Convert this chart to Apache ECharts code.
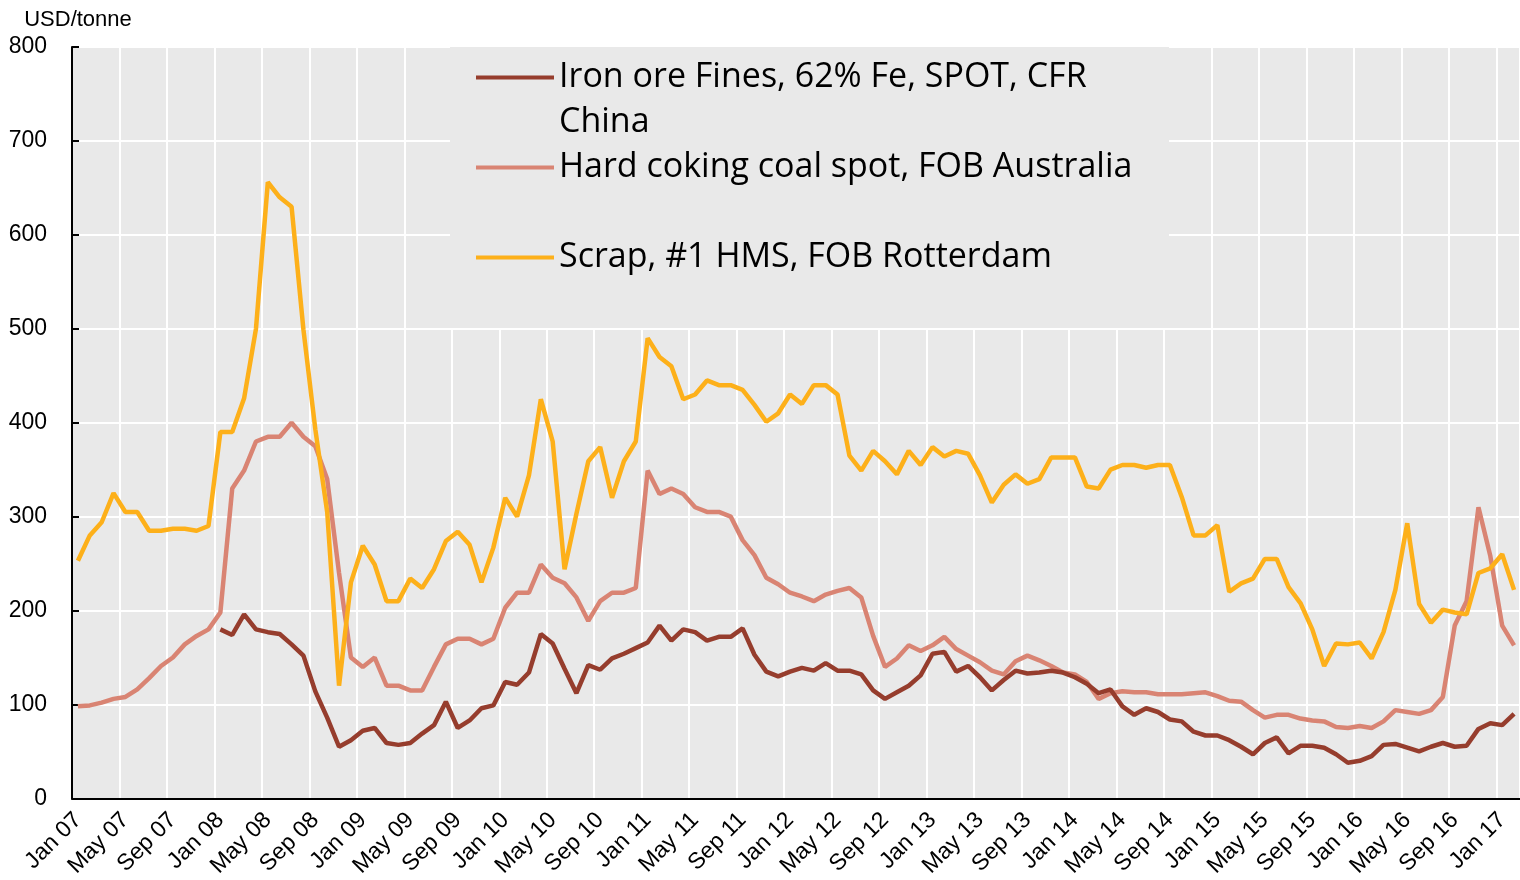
<html>
    <head>
        <meta charset="utf-8">
        <script src="https://cdn.jsdelivr.net/npm/echarts@6/dist/echarts.min.js"></script>
        <style>
            html, body { margin: 0; padding: 0; background: #fff; }
            #chart { width: 1520px; height: 880px; }
        </style>
    </head>
    <body>
        <div id="chart"></div>
        <script>
        var monthNames = ['Jan', 'Feb', 'Mar', 'Apr', 'May', 'Jun', 'Jul', 'Aug', 'Sep', 'Oct', 'Nov', 'Dec'];
        var yearLabels = ['07', '08', '09', '10', '11', '12', '13', '14', '15', '16', '17'];
        var monthCount = 122; // Jan 07 .. Feb 17

        var ironOre = [
            null, null, null, null, null, null, null, null, null, null, null, null,
            180, 174, 196, 180, 177, 175, 164, 152, 114, 86, 55, 62,
            72, 75, 59, 57, 59, 69, 78, 103, 75, 83, 96, 99,
            124, 121, 134, 175, 165, 138, 112, 142, 137, 149, 154, 160,
            166, 184, 168, 180, 177, 168, 172, 172, 181, 153, 135, 130,
            135, 139, 136, 144, 136, 136, 132, 115, 106, 113, 120, 131,
            154, 156, 135, 141, 129, 115, 126, 136, 133, 134, 136, 134,
            129, 122, 112, 116, 98, 89, 96, 92, 84, 82, 71, 67,
            67, 62, 55, 47, 59, 65, 48, 56, 56, 54, 47, 38,
            40, 45, 57, 58, 54, 50, 55, 59, 55, 56, 74, 80,
            78, 90
        ];
        var cokingCoal = [
            98, 99, 102, 106, 108, 116, 128, 141, 150, 164, 173, 180,
            198, 330, 349, 380, 385, 385, 400, 385, 375, 340, 240, 150,
            140, 150, 120, 120, 115, 115, 140, 164, 170, 170, 164, 170,
            203, 219, 219, 249, 235, 229, 214, 189, 210, 219, 219, 224,
            349, 324, 330, 324, 310, 305, 305, 300, 275, 259, 235, 228,
            219, 215, 210, 217, 221, 224, 214, 173, 140, 149, 163, 157,
            163, 172, 159, 152, 145, 136, 132, 146, 152, 147, 141, 134,
            132, 124, 106, 112, 114, 113, 113, 111, 111, 111, 112, 113,
            109, 104, 103, 94, 86, 89, 89, 85, 83, 82, 76, 75,
            77, 75, 82, 94, 92, 90, 94, 108, 184, 210, 310, 258,
            184, 163
        ];
        var scrap = [
            253, 280, 294, 325, 305, 305, 285, 285, 287, 287, 285, 290,
            390, 390, 426, 500, 656, 640, 630, 499, 393, 305, 120, 230,
            269, 249, 210, 210, 234, 224, 244, 274, 284, 270, 230, 267,
            320, 300, 344, 425, 380, 244, 303, 359, 374, 320, 359, 380,
            490, 470, 460, 425, 430, 445, 440, 440, 435, 419, 401, 410,
            430, 420, 440, 440, 430, 365, 349, 370, 359, 345, 370, 355,
            374, 364, 370, 367, 344, 315, 334, 345, 335, 340, 363, 363,
            363, 332, 330, 350, 355, 355, 352, 355, 355, 321, 280, 280,
            291, 220, 229, 234, 255, 255, 225, 208, 180, 141, 165, 164,
            166, 149, 177, 222, 293, 207, 187, 201, 198, 196, 240, 245,
            260, 222
        ];

        var seriesNames = [
            'Iron ore Fines, 62% Fe, SPOT, CFR China',
            'Hard coking coal spot, FOB Australia',
            'Scrap, #1 HMS, FOB Rotterdam'
        ];
        var seriesColors = ['#963d2d', '#d98473', '#fdb01a'];

        var categories = [];
        for (var i = 0; i < monthCount; i++) {
            categories.push(monthNames[i % 12] + ' ' + yearLabels[Math.floor(i / 12)]);
        }

        var axisFont = '"Liberation Sans", Arial, sans-serif';
        var legendFont = '"Open Sans", sans-serif';

        var chart = echarts.init(document.getElementById('chart'));

        var option = {
            animation: false,
            grid: {
                left: 72,
                right: 0,
                top: 47,
                bottom: 76,
                show: true,
                backgroundColor: '#e9e9e9',
                borderWidth: 0
            },
            legend: {
                orient: 'vertical',
                left: 450,
                top: 47,
                padding: [8, 35, 3, 26],
                backgroundColor: '#e9e9e9',
                itemWidth: 78,
                itemHeight: 49,
                itemGap: 0,
                selectedMode: false,
                // bar at the top of the icon box so it lines up with the first text line
                icon: 'path://M0,0H78V4H0ZM0,49L0.01,49',
                itemStyle: { borderWidth: 0 },
                data: seriesNames,
                formatter: function (name) {
                    if (name === seriesNames[0]) {
                        return 'Iron ore Fines, 62% Fe, SPOT, CFR\nChina';
                    }
                    return name + '\n ';
                },
                textStyle: {
                    fontFamily: legendFont,
                    fontSize: 34,
                    lineHeight: 45,
                    color: '#000',
                    width: 575
                }
            },
            xAxis: {
                type: 'category',
                data: categories,
                boundaryGap: true,
                axisLine: { lineStyle: { color: '#000', width: 2 } },
                axisTick: {
                    inside: true,
                    length: 7,
                    interval: 3,
                    lineStyle: { color: '#000', width: 2 }
                },
                axisLabel: {
                    interval: 3,
                    rotate: 45,
                    margin: 18,
                    fontSize: 23,
                    fontFamily: axisFont,
                    color: '#000'
                },
                splitLine: {
                    show: true,
                    interval: 3,
                    lineStyle: { color: '#ffffff', width: 2 }
                }
            },
            yAxis: {
                type: 'value',
                min: 0,
                max: 800,
                interval: 100,
                name: 'USD/tonne',
                nameLocation: 'end',
                nameGap: 16,
                nameTextStyle: {
                    fontSize: 22,
                    fontFamily: axisFont,
                    color: '#000',
                    padding: [0, 0, 0, 12]
                },
                axisLine: { show: true, lineStyle: { color: '#000', width: 2 } },
                axisTick: {
                    show: true,
                    inside: true,
                    length: 7,
                    lineStyle: { color: '#000', width: 2 }
                },
                axisLabel: {
                    margin: 25,
                    fontSize: 23,
                    fontFamily: axisFont,
                    color: '#000'
                },
                splitLine: {
                    show: true,
                    lineStyle: { color: '#ffffff', width: 2 }
                }
            },
            series: [{
                name: seriesNames[0],
                type: 'line',
                data: ironOre,
                z: 3,
                symbol: 'none',
                color: seriesColors[0],
                lineStyle: { width: 4.5, color: seriesColors[0] }
            }, {
                name: seriesNames[1],
                type: 'line',
                data: cokingCoal,
                z: 2,
                symbol: 'none',
                color: seriesColors[1],
                lineStyle: { width: 4.5, color: seriesColors[1] }
            }, {
                name: seriesNames[2],
                type: 'line',
                data: scrap,
                z: 4,
                symbol: 'none',
                color: seriesColors[2],
                lineStyle: { width: 4.5, color: seriesColors[2] }
            }]
        };

        chart.setOption(option);
        </script>
    </body>
</html>
